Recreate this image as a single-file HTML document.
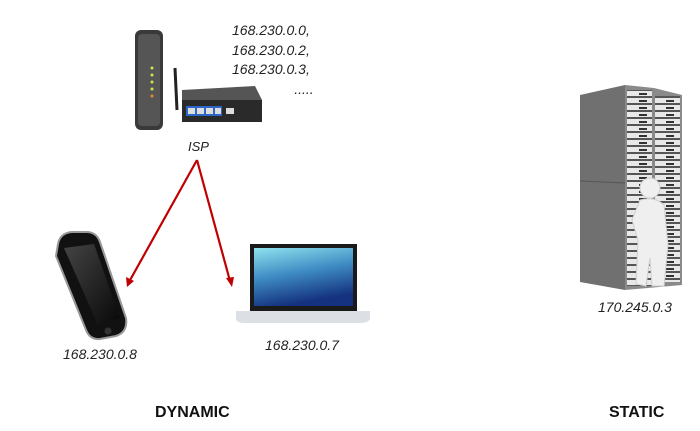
<!DOCTYPE html>
<html><head><style>
body{margin:0;width:700px;height:431px;background:#fff;position:relative;overflow:hidden;font-family:"Liberation Sans",sans-serif}
.t{position:absolute;font-style:italic;font-size:14px;color:#222;line-height:18px;white-space:nowrap}
.b{position:absolute;font-weight:bold;font-size:16px;color:#111}
</style></head><body>
<svg width="700" height="431" style="position:absolute;left:0;top:0">
<defs>
<linearGradient id="scr" x1="0" y1="0" x2="0.3" y2="1"><stop offset="0" stop-color="#8ee3ee"/><stop offset="0.5" stop-color="#3f8cc4"/><stop offset="1" stop-color="#14327f"/></linearGradient>
<linearGradient id="ph" x1="0" y1="0" x2="1" y2="1"><stop offset="0" stop-color="#444"/><stop offset="1" stop-color="#080808"/></linearGradient>
<pattern id="slots" width="55" height="7" patternUnits="userSpaceOnUse"><rect width="55" height="7" fill="#e8e8e8"/><rect y="5" width="55" height="2" fill="#555"/><rect x="6" y="2" width="8" height="2" fill="#333"/><rect x="34" y="2" width="8" height="2" fill="#333"/></pattern>
</defs>
<rect x="135" y="30" width="28" height="100" rx="6" fill="#3a3a3a"/>
<rect x="138" y="34" width="22" height="92" rx="4" fill="#555"/>
<g fill="#cde64a"><circle cx="152" cy="68" r="1.5"/><circle cx="152" cy="75" r="1.5"/><circle cx="152" cy="82" r="1.5"/><circle cx="152" cy="89" r="1.5"/></g>
<circle cx="152" cy="96" r="1.5" fill="#e88a2a"/>
<line x1="175" y1="68" x2="177" y2="110" stroke="#222" stroke-width="3"/>
<polygon points="182,90 255,86 262,100 182,104" fill="#555"/>
<rect x="182" y="100" width="80" height="22" fill="#2a2a2a"/>
<rect x="186" y="106" width="36" height="10" fill="#2e66c8"/>
<g fill="#ddd"><rect x="188" y="108" width="7" height="6"/><rect x="197" y="108" width="7" height="6"/><rect x="206" y="108" width="7" height="6"/><rect x="215" y="108" width="6" height="6"/><rect x="226" y="108" width="8" height="6"/></g>
<g stroke="#c00000" stroke-width="2.2" fill="none"><line x1="197" y1="160" x2="129" y2="282"/><line x1="197" y1="160" x2="230" y2="281"/></g>
<polygon points="127,287 126,277 134,281" fill="#c00000"/>
<polygon points="232,287 226,278 234,277" fill="#c00000"/>
<path d="M58,244 Q60,233 72,232 L88,232 Q97,233 100,242 L126,318 Q128,332 116,336 L100,339 Q90,340 86,330 L56,256 Z" fill="#111" stroke="#999" stroke-width="2"/>
<path d="M64,248 L94,244 L120,318 L98,325 Z" fill="url(#ph)"/>
<circle cx="108" cy="331" r="3.5" fill="#333"/>
<rect x="250" y="244" width="107" height="67" fill="#1a1a1a"/>
<rect x="254" y="248" width="99" height="58" fill="url(#scr)"/>
<path d="M236,311 L370,311 L370,319 Q368,323 360,323 L245,323 Q237,323 236,319 Z" fill="#dcdfe3"/>
<polygon points="580,95 625,85 625,290 580,282" fill="#707070"/>
<polygon points="625,85 654,88 682,95 682,285 625,290" fill="#8a8a8a"/>
<rect x="627" y="90" width="25" height="196" fill="url(#slots)"/>
<rect x="655" y="96" width="25" height="186" fill="url(#slots)"/>
<line x1="580" y1="181" x2="625" y2="183" stroke="#555"/>
<g fill="#efefef" stroke="#cfcfcf">
<circle cx="650" cy="188" r="10"/>
<path d="M640,200 Q655,196 664,205 L668,245 L664,286 L652,286 L650,258 L646,286 L636,284 L638,240 L632,220 Z"/>
</g>
</svg>
<div class="t" style="left:232px;top:21px;line-height:19.5px">168.230.0.0,<br>168.230.0.2,<br>168.230.0.3,<br>&nbsp;&nbsp;&nbsp;&nbsp;&nbsp;&nbsp;&nbsp;&nbsp;&nbsp;&nbsp;&nbsp;&nbsp;&nbsp;&nbsp;&nbsp;&nbsp;.....</div>
<div class="t" style="left:188px;top:138px;font-size:13px">ISP</div>
<div class="t" style="left:63px;top:345px">168.230.0.8</div>
<div class="t" style="left:265px;top:336px">168.230.0.7</div>
<div class="t" style="left:598px;top:298px">170.245.0.3</div>
<div class="b" style="left:155px;top:404px">DYNAMIC</div>
<div class="b" style="left:609px;top:404px">STATIC</div>
</body></html>
